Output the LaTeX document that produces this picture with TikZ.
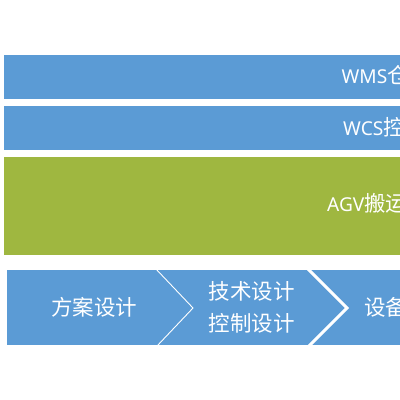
\documentclass[tikz,border=0pt]{standalone}
\usepackage{fontspec}
\setmainfont{Noto Sans}[Scale=0.89]
\newfontfamily\cjk{Noto Sans CJK SC}
\definecolor{barblue}{RGB}{91,155,213}
\definecolor{bargreen}{RGB}{159,183,64}
\tikzset{
  bar/.style={fill=barblue, draw=none},
  lbl/.style={text=white, inner sep=0pt, font=\fontsize{21.5}{21.5}\selectfont, anchor=base west},
  stagelbl/.style={text=white, inner sep=0pt, font=\cjk\fontsize{21.5}{21.5}\selectfont, anchor=base},
  septhin/.style={draw=white, line width=0.9pt},
  septhick/.style={draw=white, line width=3pt}
}
\begin{document}
\begin{tikzpicture}[x=1pt,y=-1pt]
\useasboundingbox (0,0) rectangle (400,400);
\clip (0,0) rectangle (400,400);
\fill[white] (0,0) rectangle (400,400);
% layers
\path[bar] (4,55) rectangle (410,99);
\node[lbl] (wms) at (341.5,83) {WMS{\cjk 仓}};
\path[bar] (4,106) rectangle (410,149.5);
\node[lbl] (wcs) at (343,135) {WCS{\cjk 控}};
\path[fill=bargreen] (4,156.5) rectangle (410,254.5);
\node[lbl] (agv) at (327,211) {AGV{\cjk 搬运}};
% process chevrons
\path[bar] (7,270) rectangle (410,344.5);
\coordinate (s1t) at (155,268);
\coordinate (s1p) at (193,308);
\coordinate (s1b) at (157,346);
\draw[septhin] (s1t) -- (s1p) -- (s1b);
\coordinate (s2t) at (307,268);
\coordinate (s2p) at (347,308);
\coordinate (s2b) at (309,346);
\draw[septhick] (s2t) -- (s2p) -- (s2b);
\node[stagelbl] (p1) at (94.5,315.5) {方案设计};
\node[stagelbl] (p2a) at (251.5,299) {技术设计};
\node[stagelbl] (p2b) at (251.5,331.5) {控制设计};
\node[stagelbl, anchor=base west] (p3) at (364,315.5) {设备};
\end{tikzpicture}
\end{document}
